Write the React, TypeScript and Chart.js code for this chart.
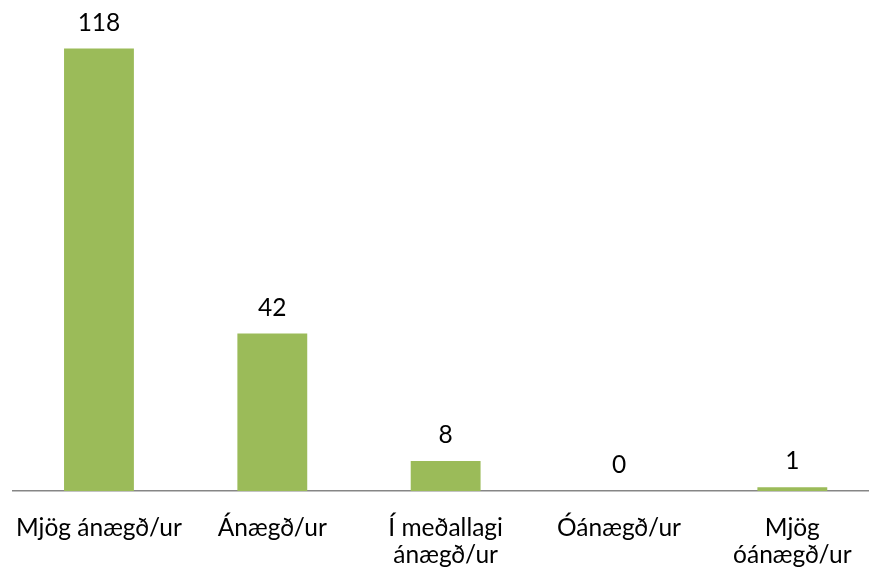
import React, { useEffect, useRef } from "react";
import { Chart, registerables } from "chart.js";

Chart.register(...registerables);

const categories: (string | string[])[] = [
  "Mjög ánægð/ur",
  "Ánægð/ur",
  ["Í meðallagi", "ánægð/ur"],
  "Óánægð/ur",
  ["Mjög", "óánægð/ur"],
];
const counts: number[] = [118, 42, 8, 0, 1];

const FONT = "Lato, 'Open Sans', sans-serif";

const valueLabels = {
  id: "valueLabels",
  afterDatasetsDraw(chart: any) {
    const ctx = chart.ctx;
    const meta = chart.getDatasetMeta(0);
    ctx.save();
    ctx.font = `24.5px ${FONT}`;
    ctx.fillStyle = "#000000";
    ctx.textAlign = "center";
    ctx.textBaseline = "alphabetic";
    meta.data.forEach((bar: any, i: number) => {
      ctx.fillText(String(counts[i]), bar.x, bar.y - 18);
    });
    ctx.restore();
  },
};

export default function App() {
  const ref = useRef<HTMLCanvasElement | null>(null);
  useEffect(() => {
    if (!ref.current) return;
    const chart = new Chart(ref.current, {
      type: "bar",
      data: {
        labels: categories,
        datasets: [
          {
            data: counts,
            backgroundColor: "#9BBB59",
            borderWidth: 0,
            barPercentage: 0.403,
            categoryPercentage: 1,
          },
        ],
      },
      options: {
        animation: false,
        responsive: false,
        maintainAspectRatio: false,
        layout: { padding: { top: 41, left: 20, right: 0, bottom: 0 } },
        plugins: {
          legend: { display: false },
          tooltip: { enabled: false },
        },
        scales: {
          x: {
            grid: { display: false, drawTicks: false },
            border: { display: true, color: "#868686", width: 1.5 },
            ticks: {
              color: "#000000",
              padding: 24,
              maxRotation: 0,
              autoSkip: false,
              font: { family: FONT, size: 24.5, lineHeight: 1.1 },
            },
          },
          y: {
            display: false,
            min: 0,
            max: 120,
          },
        },
      },
      plugins: [valueLabels],
    });
    return () => chart.destroy();
  }, []);
  return (
    <div
      style={{
        position: "fixed",
        left: 0,
        top: 0,
        width: 869,
        height: 576,
        overflow: "hidden",
        background: "#ffffff",
      }}
    >
      <canvas
        ref={ref}
        width={889}
        height={593}
        style={{ position: "absolute", left: -10, top: 0, width: 889, height: 593, display: "block" }}
      />
    </div>
  );
}
